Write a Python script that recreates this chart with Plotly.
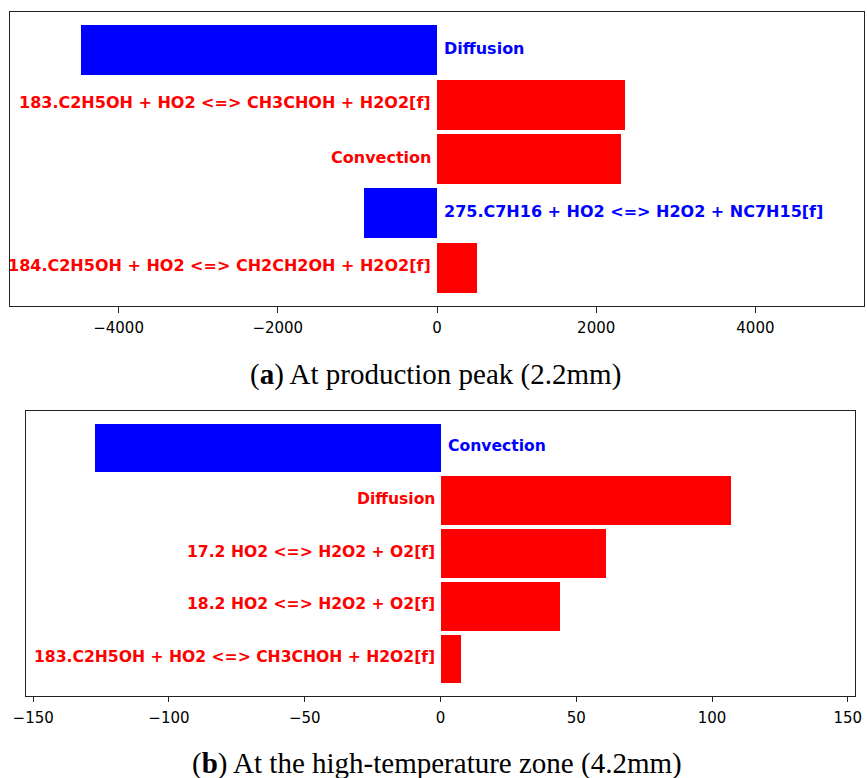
import plotly.graph_objects as go

# Panel (a): at production peak
labels_a = [
    "Diffusion",
    "183.C2H5OH + HO2 <=> CH3CHOH + H2O2[f]",
    "Convection",
    "275.C7H16 + HO2 <=> H2O2 + NC7H15[f]",
    "184.C2H5OH + HO2 <=> CH2CH2OH + H2O2[f]",
]
values_a = [-4470, 2360, 2310, -916, 502]
ticks_a = [-4000, -2000, 0, 2000, 4000]

# Panel (b): high-temperature zone
labels_b = [
    "Convection",
    "Diffusion",
    "17.2 HO2 <=> H2O2 + O2[f]",
    "18.2 HO2 <=> H2O2 + O2[f]",
    "183.C2H5OH + HO2 <=> CH3CHOH + H2O2[f]",
]
values_b = [-127.2, 107.1, 60.9, 44.0, 7.7]
ticks_b = [-150, -100, -50, 0, 50, 100, 150]

captions = [
    "(<b>a</b>) At production peak (2.2mm)",
    "(<b>b</b>) At the high-temperature zone (4.2mm)",
]

W, H = 867, 778
BLUE, RED = "#0000ff", "#ff0000"


def col(v):
    return BLUE if v < 0 else RED


fig = go.Figure()

panels = [
    dict(labels=labels_a, values=values_a, xa="x", ya="y", fs=16,
         lim=max(abs(v) for v in values_a) * 1.2),
    dict(labels=labels_b, values=values_b, xa="x2", ya="y2", fs=15.6,
         lim=max(abs(v) for v in values_b) * 1.2),
]

for p in panels:
    idx = list(range(len(p["labels"])))
    fig.add_trace(go.Bar(
        x=p["values"], y=idx, orientation="h", width=0.92,
        marker=dict(color=[col(v) for v in p["values"]], line=dict(width=0)),
        xaxis=p["xa"], yaxis=p["ya"], showlegend=False, hoverinfo="skip",
    ))
    for i, (lab, v) in enumerate(zip(p["labels"], p["values"])):
        neg = v < 0
        fig.add_annotation(
            x=0, y=i, xref=p["xa"], yref=p["ya"], text=f"<b>{lab}</b>",
            showarrow=False, xanchor="left" if neg else "right", yanchor="middle",
            xshift=5 if neg else -4, yshift=2,
            font=dict(family="DejaVu Sans", size=p["fs"], color=col(v)),
        )

frame = dict(showline=True, linecolor="#222", linewidth=1.2, mirror=True,
             zeroline=False, showgrid=False, automargin=False)
tickfont = dict(family="DejaVu Sans", size=15, color="black")

fig.update_layout(
    width=W, height=H, margin=dict(l=0, r=0, t=0, b=0),
    plot_bgcolor="white", paper_bgcolor="white", bargap=0,
    xaxis=dict(domain=[10 / W, 864 / W], range=[-panels[0]["lim"], panels[0]["lim"]],
               tickvals=ticks_a, ticks="outside", ticklen=6, tickcolor="#222",
               ticklabelstandoff=2, tickfont=tickfont, anchor="y", **frame),
    yaxis=dict(domain=[1 - 306 / H, 1 - 12 / H], range=[4.7, -0.7],
               showticklabels=False, ticks="", anchor="x", **frame),
    xaxis2=dict(domain=[26 / W, 855 / W], range=[-panels[1]["lim"], panels[1]["lim"]],
                tickvals=ticks_b, ticks="outside", ticklen=5, tickcolor="#222",
                ticklabelstandoff=3, tickfont=tickfont, anchor="y2", **frame),
    yaxis2=dict(domain=[1 - 696 / H, 1 - 411 / H], range=[4.7, -0.7],
                showticklabels=False, ticks="", anchor="x2", **frame),
)

for cap, cx, cy in zip(captions, [435.5 / W, 436.5 / W], [1 - 375 / H, 1 - 763 / H]):
    fig.add_annotation(x=cx, y=cy, xref="paper", yref="paper", text=cap,
                       showarrow=False, xanchor="center", yanchor="middle",
                       font=dict(family="Liberation Serif", size=29, color="black"))

fig.write_html("out.html")
